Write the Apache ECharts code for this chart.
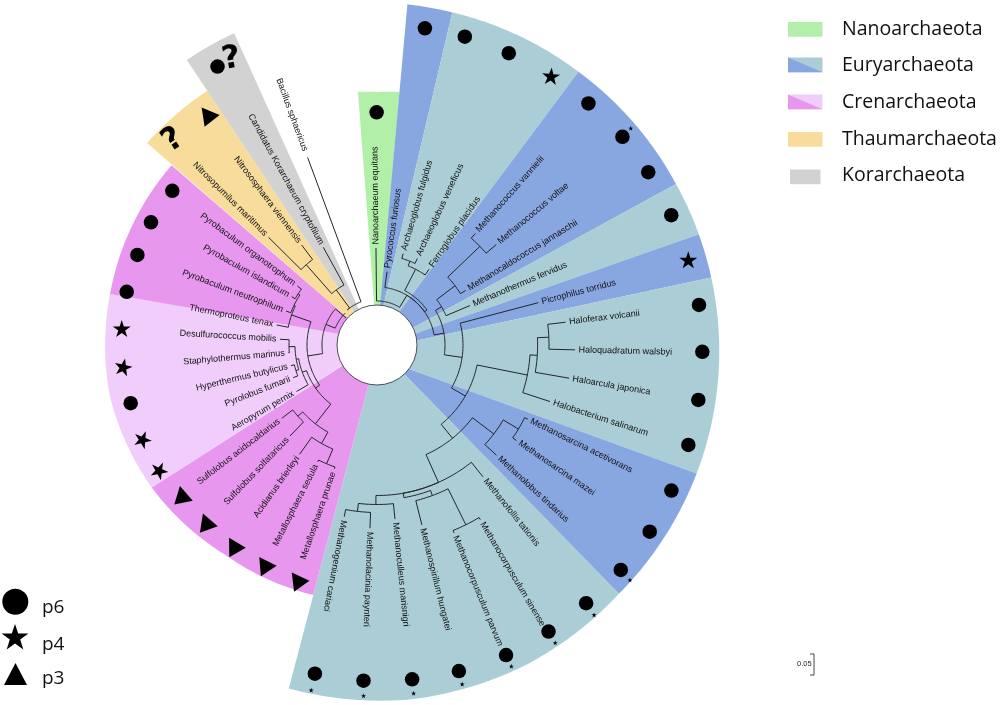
<!DOCTYPE html>
<html><head><meta charset="utf-8">
<title>Archaea tree</title>
<script src="https://cdn.jsdelivr.net/npm/echarts@6/dist/echarts.min.js"></script>
<style>
  html, body { margin:0; padding:0; background:#fff; }
  #main { width:1000px; height:705px; }
</style>
</head>
<body>
<div id="main"></div>
<script type="text/javascript">
// all angles in degrees, clockwise from 12 o'clock. radius in polar axis units
var cladeColors = { nano:'#b2f0a9', blue:'#88a6e0', teal:'#aacdd6', purple:'#e897ee', pink:'#f0cdfa', thaum:'#f8dc9c', kor:'#d2d2d2' };

// clade, outer start, outer end, inner start, inner end, rim radii
var sectors = [
  ['nano', -4.3, 5.1, -4, 5, [254, 253, 254]],
  ['blue', 5.1, 12.75, 4.5, 9, [342, 341]],
  ['teal', 12.75, 36.4, 9, 33.7, [341, 339.5]],
  ['blue', 36.4, 61.7, 33.7, 64.7, [339.5, 339.6]],
  ['teal', 61.7, 71, 64.7, 73.7, [339.6, 340.3]],
  ['blue', 71, 78.6, 73.7, 84, [340.3, 341]],
  ['teal', 78.6, 111.9, 84, 127.5, [341, 344.5]],
  ['blue', 111.9, 135.8, 127.5, 136.9, [344.5, 347]],
  ['teal', 135.8, 194.4, 136.9, 192, [347, 353, 356, 354.6]],
  ['purple', 194.3, 237.7, 192, 239.3, [258, 259, 266.5]],
  ['pink', 237.7, 280.8, 239.3, 286.6, [266.5, 272, 271.8]],
  ['purple', 280.8, 311.2, 286.6, 313, [271.8, 273]],
  ['thaum', 311.3, 326.3, 313, 325.6, [306, 305.7]],
  ['kor', 326.3, 335.4, 325.6, 333, [342.7, 343]]
];

// inner nodes: id, parent, angle, radius
var innerNodes = [
  ['E1', null, 31, 44], ['E2', 'E1', 31, 58], ['E3', 'E2', 55, 61],
  ['Arch', 'E3', 27, 85], ['Arch2', 'Arch', 21.5, 90],
  ['M1', 'E2', 80, 68], ['M2', 'M1', 59.4, 75], ['Mco', 'M2', 52.8, 98], ['Mco2', 'Mco', 46.2, 142.5],
  ['M3', 'M1', 98.3, 86], ['Lo', 'M3', 120, 102],
  ['Halo', 'Lo', 101.3, 153.3], ['Halo2', 'Halo', 93.7, 160.6], ['Halo3', 'Halo2', 87.4, 172],
  ['Lo2', 'Lo', 141, 120], ['Msarc', 'Lo2', 127.3, 146.8], ['Msarc2', 'Msarc', 120.7, 164.5],
  ['Mm', 'Lo2', 155.9, 150.5], ['L3', 'Mm', 170, 155], ['L4', 'L3', 159.8, 160.4], ['Mcorp', 'L4', 153.7, 200.5],
  ['L5', 'Mm', 180.4, 159.5], ['L6', 'L5', 186.7, 167.5],
  ['K0', null, 320, 46], ['K', 'K0', 323.5, 68.5], ['Th', 'K', 318.6, 107],
  ['C0', null, 315, 45], ['C', 'C0', 292, 55], ['C1', 'C', 261, 70],
  ['Tp', 'C1', 289.4, 90.5], ['Py', 'Tp', 295.5, 92], ['Py2', 'Py', 303, 94],
  ['D', 'C1', 235, 75], ['D2', 'D', 250, 79.5], ['D4', 'D2', 260, 82], ['D3', 'D4', 268.9, 88], ['D5', 'D4', 252.5, 85],
  ['S', 'D', 218, 100], ['S1', 'S', 228, 106.4], ['S2', 'S', 209.4, 113], ['S3', 'S2', 203, 129]
];
var stubNodes = [['stub', 'C', 311, 41]];

// leaves: name, parent, angle, radius
var leaves = [
  ['Nanoarchaeum equitans', 'E1', -0.6, 97],
  ['Pyrococcus furiosus', 'E2', 7.8, 74],
  ['Archaeoglobus fulgidus', 'Arch2', 16, 95],
  ['Archaeoglobus veneficus', 'Arch2', 25, 95.4],
  ['Ferroglobus placidus', 'Arch', 34.5, 92],
  ['Methanococcus vannielii', 'Mco2', 41.4, 148.7],
  ['Methanococcus voltae', 'Mco2', 49.9, 155.9],
  ['Methanocaldococcus jannaschii', 'Mco', 58.4, 104],
  ['Methanothermus fervidus', 'M2', 67, 101],
  ['Picrophilus torridus', 'M3', 75.3, 166.8],
  ['Haloferax volcanii', 'Halo3', 83.1, 190],
  ['Haloquadratum walsbyi', 'Halo3', 91.4, 198],
  ['Haloarcula japonica', 'Halo2', 99.8, 194.9],
  ['Halobacterium salinarum', 'Halo', 108.1, 182],
  ['Methanosarcina acetivorans', 'Msarc2', 116.2, 168],
  ['Methanosarcina mazei', 'Msarc2', 124.4, 169],
  ['Methanolobus tindarius', 'Msarc', 132.7, 162.6],
  ['Methanofollis tationis', 'Mm', 141.2, 169.2],
  ['Methanocorpusculum sinense', 'Mcorp', 149.4, 203],
  ['Methanocorpusculum parvum', 'Mcorp', 157.7, 203],
  ['Methanospirillum hungatei', 'L4', 166, 185.5],
  ['Methanoculleus marisnigri', 'L5', 174.1, 175],
  ['Methanolacinia paynteri', 'L6', 182.2, 183.4],
  ['Methanogenium cariaci', 'L6', 190.8, 174.8],
  ['Metallosphaera prunae', 'S3', 199, 131],
  ['Metallosphaera sedula', 'S3', 206.9, 131],
  ['Acidianus brierleyi', 'S2', 215.3, 133.9],
  ['Sulfolobus solfataricus', 'S1', 223.7, 125.9],
  ['Sulfolobus acidocaldarius', 'S1', 232.4, 120.2],
  ['Aeropyrum pernix', 'D2', 240, 92.9],
  ['Pyrolobus fumarii', 'D5', 248.7, 89.9],
  ['Hyperthermus butylicus', 'D5', 256.5, 88.5],
  ['Staphylothermus marinus', 'D3', 265, 89],
  ['Desulfurococcus mobilis', 'D3', 273.4, 97.2],
  ['Thermoproteus tenax', 'Tp', 281.3, 102.3],
  ['Pyrobaculum neutrophilum', 'Py', 290.5, 97],
  ['Pyrobaculum islandicum', 'Py2', 299.5, 98],
  ['Pyrobaculum organotrophum', 'Py2', 306.5, 99],
  ['Nitrosopumilus maritimus', 'Th', 314.8, 153],
  ['Nitrososphaera viennensis', 'Th', 323, 125.2],
  ['Candidatus Korarchaeum cryptofilum', 'K', 331.2, 111.5],
  ['Bacillus sphaericus', 'K0', 339.7, 200]
];

// markers: radius, angle, rotation
var circleMarks = [
  [232.7, 359.9], [320.3, 8.6], [320.6, 15.9], [320.2, 24.3], [321, 41.2], [321.8, 49.7], [321.6, 57.5], [321.6, 66.2],
  [324.5, 82.9], [325.4, 91.2], [326, 99.7], [327, 107.8], [328.4, 116.3], [330.5, 124.4], [331.7, 132.7], [332.3, 141],
  [334, 149.1], [335.9, 157.4], [336.2, 165.9], [336.1, 174], [336, 182.3], [334.5, 190.7],
  [253.1, 256.7], [255.9, 282], [256, 290.6], [257.2, 298.5], [256.3, 307], [320.9, 330.2]
];
var starMarks = [[320.4, 32.9, -5], [322.7, 74.7, 0], [255.8, 273.7, 0], [254.6, 265.1, -12], [252.5, 248.1, -22], [251, 240.1, -25]];
var triangleMarks = [[245.8, 232.6, 12], [245.9, 224.1, 20], [246.3, 215.7, 30], [246.4, 207.3, 34], [247.7, 198.9, 36], [286.7, 323.6, 38]];
var asteriskMarks = [[333.7, 49.5], [345.3, 132.9], [346.4, 141.2], [347, 149.1], [348.2, 157.3], [349.6, 165.9], [350.2, 174], [351, 182.2], [351.3, 190.8]];
var unknownMarks = [[289, 315.1, 35], [320.5, 333, 10]];

var legendNames = ['Nanoarchaeota', 'Euryarchaeota', 'Crenarchaeota', 'Thaumarchaeota', 'Korarchaeota'];
var shapeNames = ['p6', 'p4', 'p3'];
var scaleLabel = '0.05';

var STAR = 'path://M0,-10L2.245,-3.09L9.51,-3.09L3.633,1.18L5.878,8.09L0,3.82L-5.878,8.09L-3.633,1.18L-9.51,-3.09L-2.245,-3.09Z';
var LABEL_FONT = '"Liberation Sans", Arial, sans-serif';
var LEGEND_FONT = '"Open Sans", sans-serif';

var nodeById = {};
innerNodes.forEach(function(n){ nodeById[n[0]] = n; });

function indexData(list){ return list.map(function(d, i){ return [i, 0]; }); }

function renderSector(params, api){
  var s = sectors[params.dataIndex];
  var rim = s[5], pts = [api.coord([38, s[3]])];
  var steps = Math.ceil(s[2] - s[1]) * 2;
  for (var i = 0; i <= steps; i++) {
    var t = i / steps, f = t * (rim.length - 1), k = Math.min(Math.floor(f), rim.length - 2);
    var r = rim[k] + (rim[k + 1] - rim[k]) * (f - k);
    pts.push(api.coord([r, s[1] + (s[2] - s[1]) * t]));
  }
  pts.push(api.coord([38, s[4]]));
  return { type:'polygon', shape:{ points:pts }, style:{ fill:cladeColors[s[0]], stroke:null } };
}

var edges = innerNodes.concat(stubNodes, leaves).filter(function(n){ return n[1]; });
function renderEdge(params, api){
  var n = edges[params.dataIndex], p = nodeById[n[1]];
  var pts = [], steps = Math.max(1, Math.ceil(Math.abs(n[2] - p[2])));
  for (var i = 0; i <= steps; i++) pts.push(api.coord([p[3], p[2] + (n[2] - p[2]) * i / steps]));
  pts.push(api.coord([n[3], n[2]]));
  return { type:'polyline', shape:{ points:pts }, style:{ fill:null, stroke:'#22262a', lineWidth:1 } };
}

function renderLeafLabel(params, api){
  var n = leaves[params.dataIndex], a = n[2];
  var flip = a > 195 && a < 350;
  var gap = n[0] === 'Bacillus sphaericus' ? 7 : 3.5;
  var pt = api.coord([n[3] + gap, a]);
  var rot = (flip ? 270 - a : 90 - a) * Math.PI / 180;
  return { type:'text', x:pt[0], y:pt[1], rotation:rot,
    style:{ text:n[0], x:0, y:0, align:flip ? 'right' : 'left', verticalAlign:'middle', fontSize:9, fontFamily:LABEL_FONT, fill:'#111' } };
}

function renderUnknown(params, api){
  var m = unknownMarks[params.dataIndex], pt = api.coord([m[0], m[1]]);
  return { type:'text', x:pt[0], y:pt[1], rotation:m[2] * Math.PI / 180,
    style:{ text:'?', x:0, y:0, align:'center', verticalAlign:'middle', fontSize:32, fontWeight:'bold', fontFamily:'"DejaVu Sans", sans-serif', fill:'#000' } };
}

function renderHole(params, api){
  var c = api.coord([0, 0]);
  return { type:'circle', shape:{ cx:c[0], cy:c[1], r:40 }, style:{ fill:'#fff', stroke:'#3a3f44', lineWidth:0.9 } };
}

// text placed on its baseline
function baselineText(x, base, text, size, font, fill){
  return { type:'text', x:x, y:base - size * 0.36, style:{ text:text, fontSize:size, fontFamily:font, fill:fill, verticalAlign:'middle' } };
}

// legend on the right, shape key on the left, scale bar
var legendRows = [[22, 36.7, 'nano', null], [57.5, 72, 'teal', 'blue'], [94.5, 109, 'pink', 'purple'], [132, 146.7, 'thaum', null], [169.5, 182.7, 'kor', null]];
var graphics = [];
legendRows.forEach(function(row, i){
  var x0 = i === 4 ? 790 : 788, w = i === 4 ? 30.5 : 34.5, h = 14.7;
  graphics.push({ type:'rect', shape:{ x:x0, y:row[0], width:w, height:h }, style:{ fill:cladeColors[row[2]] } });
  if (row[3]) graphics.push({ type:'polygon', shape:{ points:[[x0, row[0]], [x0 + w, row[0] + h], [x0, row[0] + h]] }, style:{ fill:cladeColors[row[3]] } });
  graphics.push(baselineText(842, row[1], legendNames[i], 19.5, LEGEND_FONT, '#111'));
});
graphics.push({ type:'circle', shape:{ cx:15.3, cy:601.7, r:13 }, style:{ fill:'#000' } });
graphics.push({ type:'polygon', shape:{ points:[[15,624],[18.2,633.6],[28.4,633.6],[20.2,639.6],[23.3,649.4],[15,643.4],[6.7,649.4],[9.8,639.6],[1.6,633.6],[11.8,633.6]] }, style:{ fill:'#000' } });
graphics.push({ type:'polygon', shape:{ points:[[15.5, 663], [27, 685], [4, 685]] }, style:{ fill:'#000' } });
[614.3, 651.7, 685].forEach(function(y, i){
  graphics.push(baselineText(42, y, shapeNames[i], 19, LEGEND_FONT, '#111'));
});
graphics.push({ type:'polyline', shape:{ points:[[810, 654], [814, 654], [814, 675], [810, 675]] }, style:{ fill:null, stroke:'#333', lineWidth:0.9 } });
graphics.push(baselineText(797, 666.7, scaleLabel, 7.5, LABEL_FONT, '#222'));

var chart = echarts.init(document.getElementById('main'));
chart.setOption({
  animation:false,
  backgroundColor:'#fff',
  polar:{ center:[377, 345], radius:400 },
  radiusAxis:{ min:0, max:400, show:false },
  angleAxis:{ min:0, max:360, startAngle:90, show:false },
  graphic:{ elements:graphics },
  series:[
    { type:'custom', coordinateSystem:'polar', renderItem:renderSector, data:indexData(sectors), silent:true, z:1 },
    { type:'custom', coordinateSystem:'polar', renderItem:renderHole, data:[[0, 0]], silent:true, z:2 },
    { type:'custom', coordinateSystem:'polar', renderItem:renderEdge, data:indexData(edges), silent:true, z:3 },
    { type:'custom', coordinateSystem:'polar', renderItem:renderLeafLabel, data:indexData(leaves), silent:true, z:4 },
    { type:'scatter', coordinateSystem:'polar', data:circleMarks, symbol:'circle', symbolSize:14.5, itemStyle:{ color:'#000', opacity:1 }, silent:true, z:5 },
    { type:'scatter', coordinateSystem:'polar', data:starMarks, symbol:STAR, symbolSize:[18, 17], symbolRotate:function(v){ return v[2]; }, itemStyle:{ color:'#000', opacity:1 }, silent:true, z:5 },
    { type:'scatter', coordinateSystem:'polar', data:triangleMarks, symbol:'triangle', symbolSize:[19, 17], symbolRotate:function(v){ return v[2]; }, itemStyle:{ color:'#000', opacity:1 }, silent:true, z:5 },
    { type:'scatter', coordinateSystem:'polar', data:asteriskMarks, symbol:STAR, symbolSize:[5, 5], itemStyle:{ color:'#000', opacity:1 }, silent:true, z:5 },
    { type:'custom', coordinateSystem:'polar', renderItem:renderUnknown, data:indexData(unknownMarks), silent:true, z:5 }
  ]
});
</script>
</body></html>
